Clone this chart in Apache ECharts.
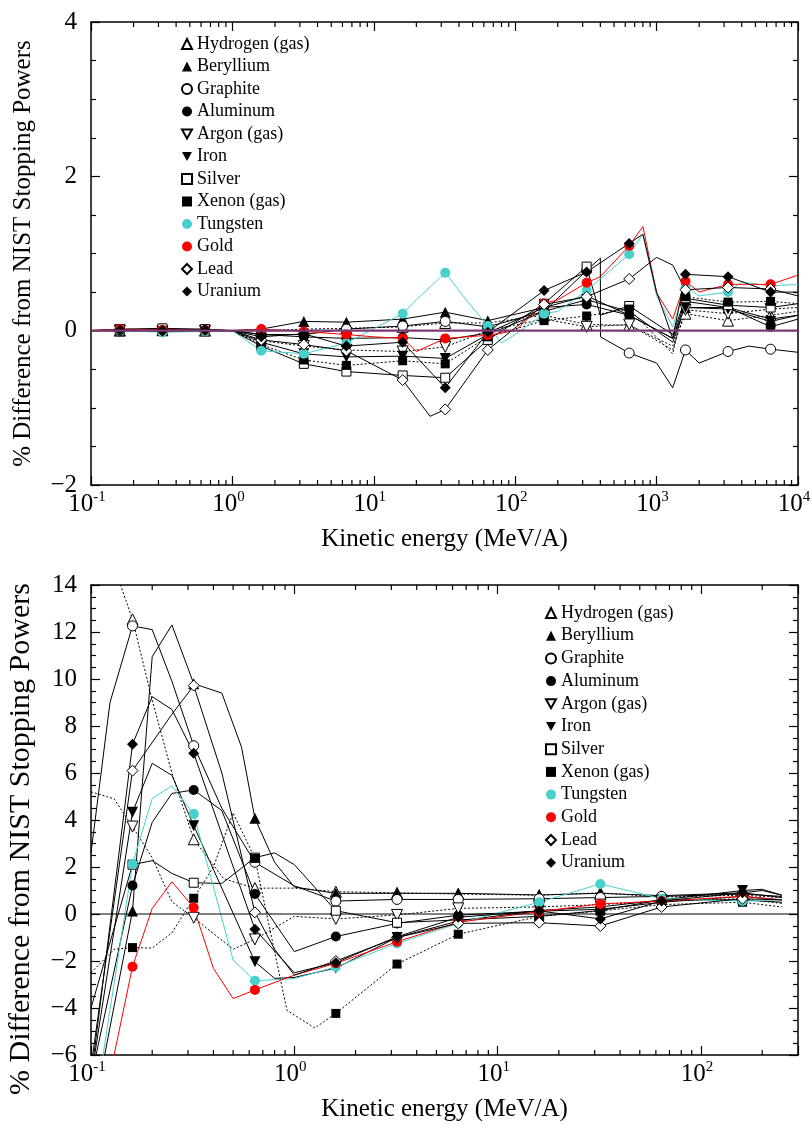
<!DOCTYPE html>
<html><head><meta charset="utf-8">
<script src="https://cdn.jsdelivr.net/npm/echarts@6/dist/echarts.min.js"></script>
<style>html,body{margin:0;padding:0;background:#fff}#c{width:812px;height:1129px}</style>
</head><body><div id="c"></div>
<script>
// ---------------- DATA ----------------
const materials = ['Hydrogen (gas)','Beryllium','Graphite','Aluminum','Argon (gas)','Iron','Silver','Xenon (gas)','Tungsten','Gold','Lead','Uranium'];

// top panel: marker energies (MeV/A)
const topE = [0.16,0.32,0.64,1.6,3.2,6.4,16,32,64,160,320,640,1600,3200,6400];
const topHydrogen = [0.0,0.01,0.0,0.0,0.02,0.03,0.05,0.1,0.1,0.2,0.08,0.07,0.22,0.13,0.2];
const topBeryllium = [0.01,0.0,0.01,0.02,0.12,0.11,0.15,0.24,0.13,0.3,0.45,0.2,0.3,0.3,0.15];
const topGraphite = [0.0,0.02,0.0,-0.05,-0.05,0.02,0.06,0.12,0.05,0.25,0.78,-0.29,-0.25,-0.27,-0.24];
const topAluminum = [0.01,-0.01,0.0,-0.05,-0.08,-0.1,-0.09,-0.12,-0.03,0.3,0.34,0.2,0.38,0.3,0.05];
const topArgon = [0.0,-0.01,0.0,-0.13,-0.2,-0.25,-0.27,-0.21,0.0,0.15,0.05,0.08,0.27,0.22,0.28];
const topIron = [0.01,0.0,-0.01,-0.15,-0.3,-0.34,-0.33,-0.36,-0.05,0.25,0.4,0.25,0.3,0.28,0.12];
const topSilver = [0.02,0.03,0.02,-0.2,-0.43,-0.53,-0.58,-0.61,-0.12,0.35,0.83,0.32,0.42,0.33,0.3];
const topXenon = [0.0,-0.01,0.0,-0.18,-0.38,-0.45,-0.39,-0.43,-0.08,0.13,0.19,0.28,0.44,0.37,0.38];
const topTungsten = [0.0,-0.02,-0.01,-0.26,-0.3,-0.16,0.22,0.75,0.06,0.22,0.52,0.99,0.57,0.5,0.58];
const topGold = [0.02,0.01,0.01,0.02,-0.01,-0.05,-0.1,-0.1,-0.06,0.35,0.62,1.1,0.64,0.6,0.6];
const topLead = [0.0,0.0,0.01,-0.12,-0.18,-0.26,-0.64,-1.02,-0.25,0.34,0.44,0.67,0.53,0.56,0.54];
const topUranium = [0.01,0.0,0.01,-0.08,-0.04,-0.2,-0.15,-0.74,-0.02,0.52,0.76,1.13,0.73,0.7,0.5];
// top panel: extra curve points between markers [E, %]
const topHydrogenX = [[0.1,0],[1,0],[1300,-0.2],[10000,0.25]];
const topBerylliumX = [[0.1,0],[1,0],[1300,-0.1],[10000,0.2]];
const topGraphiteX = [[0.1,0],[1,0],[400,0.94],[401,-0.08],[1000,-0.42],[1300,-0.74],[2000,-0.42],[4500,-0.2],[10000,-0.28]];
const topAluminumX = [[0.1,0],[1,0],[1300,-0.1],[10000,0.15]];
const topArgonX = [[0.1,0],[1,0],[1300,-0.25],[10000,0.3]];
const topIronX = [[0.1,0],[1,0],[1300,-0.15],[10000,0.2]];
const topSilverX = [[0.1,0],[1,0],[400,0.2],[1300,-0.05],[10000,0.35]];
const topXenonX = [[0.1,0],[1,0],[1300,-0.3],[10000,0.35]];
const topTungstenX = [[0.1,0],[1,0],[20,0.4],[45,0.4],[80,-0.16],[100,-0.05],[200,0.25],[800,1.25],[1000,0.45],[1300,0.05],[2000,0.45],[4000,0.63],[10000,0.6]];
const topGoldX = [[0.1,0],[1,0],[10,-0.08],[20,-0.27],[100,0.0],[200,0.4],[400,0.7],[800,1.35],[1000,0.49],[1300,0.15],[2000,0.5],[10000,0.72]];
const topLeadX = [[0.1,0],[1,0],[25,-1.11],[1000,0.95],[1300,0.85],[10000,0.45]];
const topUraniumX = [[0.1,0],[1,0],[800,1.25],[1000,0.5],[1300,-0.1],[10000,0.5]];

// bottom panel: marker energies (MeV/A)
const botE = [0.16,0.32,0.64,1.6,3.2,6.4,16,32,64,160];
const botHydrogen = [12.54,3.18,1.1,0.95,0.9,0.85,0.8,0.9,0.72,0.8];
const botBeryllium = [0.13,9.8,4.07,0.88,0.88,0.88,0.81,0.88,0.78,0.9];
const botGraphite = [12.26,7.16,2.2,0.55,0.62,0.62,0.65,0.7,0.75,0.85];
const botAluminum = [1.21,5.28,0.85,-0.96,-0.4,-0.05,0.12,0.2,0.5,0.75];
const botArgon = [3.72,-0.16,-1.08,-0.21,-0.04,0.24,0.3,0.4,0.55,0.65];
const botIron = [4.33,3.76,-2.03,-2.3,-1.0,-0.3,0.15,0.3,0.6,1.0];
const botSilver = [2.1,1.33,2.4,0.14,-0.37,-0.25,-0.1,0.15,0.6,0.6];
const botXenon = [-1.43,0.67,2.37,-4.23,-2.13,-0.86,-0.1,0.13,0.4,0.5];
const botTungsten = [2.13,4.26,-2.84,-2.25,-1.25,-0.4,0.5,1.28,0.65,0.55];
const botGold = [-2.24,0.27,-3.23,-2.1,-1.18,-0.35,0.1,0.43,0.55,0.75];
const botLead = [6.1,9.72,0.07,-2.0,-1.0,-0.4,-0.37,-0.51,0.3,0.65];
const botUranium = [7.22,6.84,-0.65,-2.07,-0.97,-0.14,0.13,-0.21,0.55,0.9];
const botHydrogenX = [[0.1,17],[0.141,13.9],[0.2,9.1],[0.25,6.0],[0.45,1.5],[1.0,1.1],[250,0.7]];
const botBerylliumX = [[0.1,-9],[0.2,10.95],[0.25,12.3],[0.44,9.4],[0.55,7.1],[0.8,2.2],[1.0,1.15],[200,1.0],[250,0.8]];
const botGraphiteX = [[0.1,2.6],[0.124,9.0],[0.2,12.1],[0.25,9.9],[0.44,4.5],[1.0,1.2],[250,0.75]];
const botAluminumX = [[0.1,-7],[0.2,3.9],[0.25,5.13],[0.44,4.4],[1.0,-1.6],[250,0.6]];
const botArgonX = [[0.1,5.2],[0.13,4.9],[0.2,2.4],[0.25,0.52],[0.5,-1.5],[1.0,-0.1],[250,0.45]];
const botIronX = [[0.1,-7],[0.2,6.41],[0.25,5.9],[0.8,-2.74],[1.0,-2.7],[200,1.05],[250,0.8]];
const botSilverX = [[0.1,-4],[0.2,2.27],[0.25,1.73],[0.44,1.3],[0.8,2.6],[1.0,2.1],[250,0.5]];
const botXenonX = [[0.1,-2.5],[0.13,-1.5],[0.2,-1.45],[0.25,-0.8],[0.4,2.0],[0.5,4.3],[0.92,-4.1],[1.26,-4.85],[250,0.3]];
const botTungstenX = [[0.11,-7],[0.2,4.92],[0.25,5.45],[0.5,-1.96],[1.0,-2.75],[250,0.6]];
const botGoldX = [[0.11,-9],[0.2,0.24],[0.25,1.37],[0.4,-2.31],[0.5,-3.6],[1.0,-2.6],[250,0.6]];
const botLeadX = [[0.1,-6.5],[0.25,8.5],[0.44,6.0],[0.8,-1.5],[1.0,-2.6],[250,0.6]];
const botUraniumX = [[0.1,-7],[0.2,9.25],[0.25,8.7],[1.0,-2.5],[250,0.7]];

// axis minor tick values
const topMinorE = [0.2,0.3,0.4,0.5,0.6,0.7,0.8,0.9,2,3,4,5,6,7,8,9,20,30,40,50,60,70,80,90,200,300,400,500,600,700,800,900,2000,3000,4000,5000,6000,7000,8000,9000];
const botMinorE = [0.2,0.3,0.4,0.5,0.6,0.7,0.8,0.9,2,3,4,5,6,7,8,9,20,30,40,50,60,70,80,90,200];

// ---------------- STYLE ----------------
const INV = 'path://M0,0L10,0L5,9Z';
const symbols = ['triangle','triangle','circle','circle',INV,INV,'rect','rect','circle','circle','diamond','diamond'];
const fills = ['#fff','#000','#fff','#000','#fff','#000','#fff','#000','#48d1cc','#ff0000','#fff','#000'];
const lineColors = ['#000','#000','#000','#000','#000','#000','#000','#000','#48d1cc','#ff0000','#000','#000'];
const dashed = [true,false,false,false,true,false,false,true,false,false,false,false];
const sizes = [11,11,10,10,11,11,9,9,10,10,11,11];

const topVals = [topHydrogen,topBeryllium,topGraphite,topAluminum,topArgon,topIron,topSilver,topXenon,topTungsten,topGold,topLead,topUranium];
const topExtra = [topHydrogenX,topBerylliumX,topGraphiteX,topAluminumX,topArgonX,topIronX,topSilverX,topXenonX,topTungstenX,topGoldX,topLeadX,topUraniumX];
const botVals = [botHydrogen,botBeryllium,botGraphite,botAluminum,botArgon,botIron,botSilver,botXenon,botTungsten,botGold,botLead,botUranium];
const botExtra = [botHydrogenX,botBerylliumX,botGraphiteX,botAluminumX,botArgonX,botIronX,botSilverX,botXenonX,botTungstenX,botGoldX,botLeadX,botUraniumX];

const FONT = 'Liberation Serif';
function curve(E, vals, extra){
  return E.map((e,i)=>[e, vals[i]]).concat(extra).sort((a,b)=>a[0]-b[0]);
}
function markerStyle(i){
  const open = fills[i] === '#fff';
  return open ? {color:'#fff', borderColor:'#000', borderWidth:1, opacity:1} : {color:fills[i], borderWidth:0, opacity:1};
}
const series = [];
function addPanel(gi, E, valsList, extraList){
  const xi = gi*2, yi = gi*2;
  valsList.forEach((vals,i)=>{
    series.push({type:'line', name:materials[i]+' curve', xAxisIndex:xi, yAxisIndex:yi,
      data:curve(E, vals, extraList[i]), showSymbol:false, symbol:'none', clip:true, silent:true, z:2,
      lineStyle:{color:lineColors[i], width:1, type: dashed[i] ? [2,2] : 'solid'}});
  });
  valsList.forEach((vals,i)=>{
    series.push({type:'scatter', name:materials[i], xAxisIndex:xi, yAxisIndex:yi,
      data:E.map((e,j)=>[e, vals[j]]), symbol:symbols[i], symbolSize:sizes[i], z:3, silent:true,
      itemStyle:markerStyle(i)});
  });
}
addPanel(0, topE, topVals, topExtra);
addPanel(1, botE, botVals, botExtra);

// zero lines
series.push({type:'line', name:'zero0', xAxisIndex:0, yAxisIndex:0, data:[[0.1,0],[10000,0]], showSymbol:false, symbol:'none', silent:true, z:5, lineStyle:{color:'#7b3a72', width:2.2}});
series.push({type:'line', name:'zero1', xAxisIndex:2, yAxisIndex:2, data:[[0.1,0],[300,0]], showSymbol:false, symbol:'none', silent:true, z:2, lineStyle:{color:'#000', width:1}});

// minor log ticks (bottom & top edges)
function minorTicks(xi, yi, Es, yMin, yMax){
  const st = {type:'scatter', xAxisIndex:xi, yAxisIndex:yi, symbol:'rect', symbolSize:[1.2,5], silent:true, z:6, clip:false, itemStyle:{color:'#000', opacity:1}};
  series.push(Object.assign({}, st, {name:'mt'+xi+'b', data:Es.map(e=>[e,yMin]), symbolOffset:[0,-2.5]}));
  series.push(Object.assign({}, st, {name:'mt'+xi+'t', data:Es.map(e=>[e,yMax]), symbolOffset:[0,2.5]}));
}
minorTicks(0, 0, topMinorE, -2, 4);
minorTicks(2, 2, botMinorE, -6, 14);

const lineSt = {show:true, onZero:false, lineStyle:{color:'#000', width:1.5}};
function logLabel(v){
  const e = Math.log10(v), r = Math.round(e);
  if (Math.abs(e-r) > 0.01) return '';
  return '{b|10}{s|' + r + '}';
}
const rich = {b:{fontSize:25, fontFamily:FONT, color:'#000', verticalAlign:'bottom'},
              s:{fontSize:15, fontFamily:FONT, color:'#000', verticalAlign:'bottom', padding:[0,0,12,0]}};
function xAxes(gi, max){
  return [
    {gridIndex:gi, type:'log', min:0.1, max:max, position:'bottom', axisLine:lineSt,
     axisTick:{inside:true, length:9, lineStyle:{color:'#000', width:1.2}},
     axisLabel:{formatter:logLabel, rich:rich, margin:5, padding:[0,8,0,0]}, splitLine:{show:false},
     name:'Kinetic energy (MeV/A)', nameLocation:'middle', nameGap:42,
     nameTextStyle:{fontFamily:FONT, fontSize:25, color:'#000'}},
    {gridIndex:gi, type:'log', min:0.1, max:max, position:'top', axisLine:lineSt,
     axisTick:{inside:true, length:9, lineStyle:{color:'#000', width:1.2}},
     axisLabel:{show:false}, splitLine:{show:false}}
  ];
}
function yAxes(gi, min, max, titleSize, titleGap, titlePad){
  const base = {gridIndex:gi, type:'value', min:min, max:max, interval:2, axisLine:lineSt,
    axisTick:{inside:true, length:9, lineStyle:{color:'#000', width:1.2}},
    minorTick:{show:true, splitNumber:4, length:5, lineStyle:{color:'#000', width:1.2}},
    splitLine:{show:false}, minorSplitLine:{show:false}};
  return [
    Object.assign({}, base, {position:'left',
      axisLabel:{fontFamily:FONT, fontSize:25, color:'#000', margin:14, formatter:v=>String(v).replace('-','\u2212')},
      name:'% Difference from NIST Stopping Powers', nameLocation:'middle', nameGap:titleGap,
      nameTextStyle:{fontFamily:FONT, fontSize:titleSize, color:'#000', padding:titlePad}}),
    Object.assign({}, base, {position:'right', axisLabel:{show:false}})
  ];
}

const legendBase = {data:materials, orient:'vertical', itemWidth:10, itemHeight:10, itemGap:4.5,
  selectedMode:false, padding:0, textStyle:{fontFamily:FONT, fontSize:18, color:'#000', lineHeight:18}};

const option = {
  animation:false,
  backgroundColor:'#fff',
  grid:[{left:91, right:14, top:22, height:463, outerBoundsMode:'none', containLabel:false},
        {left:91, right:14, top:585, height:470, outerBoundsMode:'none', containLabel:false}],
  xAxis:[...xAxes(0, 10000), ...xAxes(1, 300)],
  yAxis:[...yAxes(0, -2, 4, 25, 55, [0,0,0,0]), ...yAxes(1, -6, 14, 30, 55, [0,38,0,0])],
  legend:[Object.assign({}, legendBase, {left:181, top:35}), Object.assign({}, legendBase, {left:545, top:604, itemGap:4.7})],
  series:series
};
const chart = echarts.init(document.getElementById('c'), null, {renderer:'canvas'});
chart.setOption(option);
</script></body></html>
